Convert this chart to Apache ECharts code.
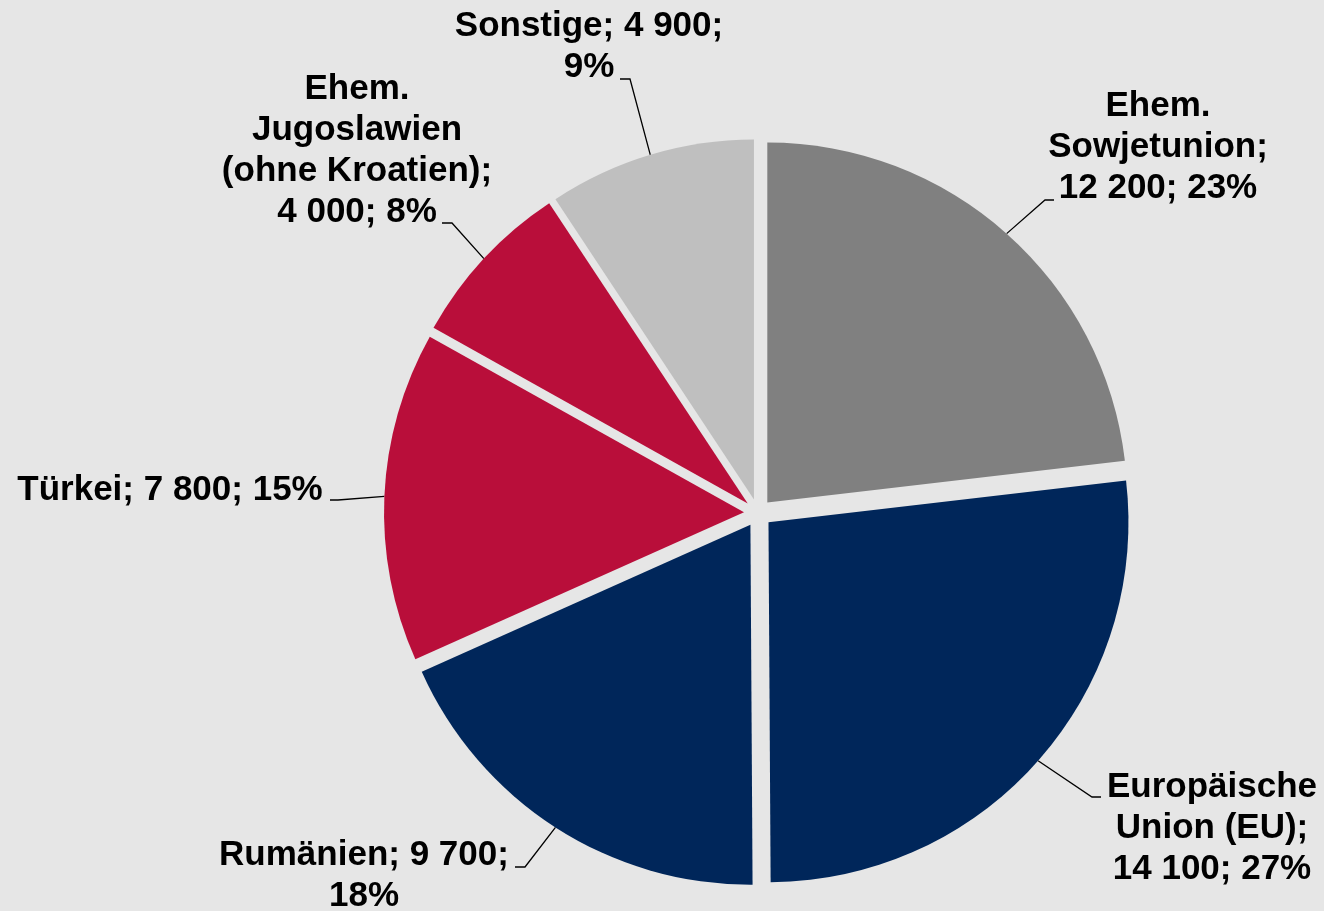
<!DOCTYPE html>
<html>
<head>
<meta charset="utf-8">
<script src="https://cdn.jsdelivr.net/npm/echarts@6/dist/echarts.min.js"></script>
<style>
  html, body { margin: 0; padding: 0; background: #e6e6e6; }
  #chart { width: 1324px; height: 911px; }
</style>
</head>
<body>
<div id="chart"></div>
<script>
// ---- data ----
const categories = ['Ehem.\nSowjetunion', 'Europäische\nUnion (EU)', 'Rumänien', 'Türkei', 'Ehem.\nJugoslawien\n(ohne Kroatien)', 'Sonstige'];
const values = [12200, 14100, 9700, 7800, 4000, 4900];
const colors = ['#808080', '#00265a', '#00265a', '#b90e3a', '#b90e3a', '#bfbfbf'];
// separators used in each label: [after name, after value]
const labelSeps = [[';\n', '; '], [';\n', '; '], ['; ', ';\n'], ['; ', '; '], [';\n', '; '], ['; ', ';\n']];

// ---- layout (label block centres, leader-line elbows and ends) ----
const labelPos = [[1158, 147], [1212, 828], [364, 876], [170, 490], [357, 151], [589, 47]];
const leaderElbow = [[1045, 200], [1092, 797], [525, 867], [338, 500], [452, 223], [630, 79]];
const leaderEnd = [[1054, 200], [1101, 797], [515, 867], [330, 500], [442, 223], [620, 79]];

const CX = 758, CY = 513, R = 360, EXPLODE = 14;

function fmt(v) {
  return String(v).replace(/\B(?=(\d{3})+(?!\d))/g, ' ');
}

const total = values.reduce((a, b) => a + b, 0);
let cum = 0;
const series = values.map((v, i) => {
  const mid = 2 * Math.PI * (cum + v / 2) / total;
  cum += v;
  const cx = CX + EXPLODE * Math.sin(mid);
  const cy = CY - EXPLODE * Math.cos(mid);
  return {
    type: 'pie',
    center: [cx, cy],
    radius: [0, R],
    startAngle: 90,
    clockwise: true,
    avoidLabelOverlap: false,
    silent: true,
    emphasis: { disabled: true },
    itemStyle: { borderWidth: 0 },
    data: categories.map((c, j) => ({
      name: c,
      value: values[j],
      itemStyle: { color: j === i ? colors[j] : 'rgba(0,0,0,0)' },
      label: { show: j === i },
      labelLine: { show: j === i }
    })),
    label: {
      position: 'outside',
      color: '#000',
      fontFamily: 'Liberation Sans, Arial, sans-serif',
      fontWeight: 'bold',
      fontSize: 35,
      lineHeight: 41,
      align: 'center',
      formatter: p => p.name + labelSeps[p.dataIndex][0] + fmt(p.value) + labelSeps[p.dataIndex][1] + Math.round(p.percent) + '%'
    },
    labelLine: {
      length: 20,
      length2: 10,
      lineStyle: { color: '#000', width: 1.3 }
    },
    labelLayout: p => {
      const k = p.dataIndex;
      const start = p.labelLinePoints ? p.labelLinePoints[0] : null;
      const out = {
        x: labelPos[k][0],
        y: labelPos[k][1],
        align: 'center',
        verticalAlign: 'middle'
      };
      if (start) {
        out.labelLinePoints = [start, leaderElbow[k], leaderEnd[k]];
      }
      return out;
    }
  };
});

const chart = echarts.init(document.getElementById('chart'), null, { renderer: 'canvas' });
chart.setOption({
  backgroundColor: '#e6e6e6',
  animation: false,
  series: series
});
</script>
</body>
</html>
